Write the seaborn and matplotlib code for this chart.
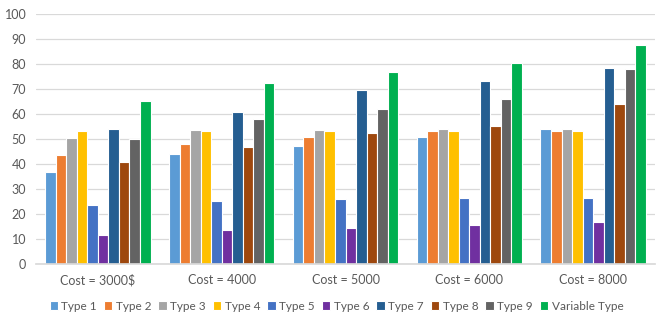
import matplotlib
matplotlib.use("Agg")
import matplotlib.pyplot as plt
import seaborn as sns
import pandas as pd

categories = ["Cost = 3000$", "Cost = 4000", "Cost = 5000", "Cost = 6000", "Cost = 8000"]
series_names = ["Type 1", "Type 2", "Type 3", "Type 4", "Type 5", "Type 6",
                "Type 7", "Type 8", "Type 9", "Variable Type"]
type1 = [37.0, 44.0, 47.3, 50.7, 53.9]
type2 = [43.5, 48.0, 51.0, 53.2, 53.3]
type3 = [50.4, 53.6, 53.7, 53.9, 53.9]
type4 = [53.1, 53.3, 53.2, 53.2, 53.2]
type5 = [23.8, 25.1, 26.1, 26.5, 26.5]
type6 = [11.7, 13.7, 14.6, 15.8, 16.8]
type7 = [53.9, 60.9, 69.8, 73.4, 78.6]
type8 = [41.0, 46.7, 52.3, 55.1, 64.1]
type9 = [50.1, 58.2, 62.2, 66.2, 78.2]
variable = [65.3, 72.5, 76.7, 80.6, 87.6]
colors = ["#5B9BD5", "#ED7D31", "#A5A5A5", "#FFC000", "#4472C4",
          "#7030A0", "#255E91", "#9E480E", "#636363", "#00B050"]

all_series = [type1, type2, type3, type4, type5, type6, type7, type8, type9, variable]
rows = []
for name, vals in zip(series_names, all_series):
    for c, v in zip(categories, vals):
        rows.append({"cost": c, "type": name, "value": v})
df = pd.DataFrame(rows)

sns.set_theme(style="white")
plt.rcParams["font.family"] = ["Lato", "DejaVu Sans"]

fig = plt.figure(figsize=(6.69, 3.23), dpi=100)
ax = fig.add_axes([36/669, 59/323, 619/669, 250/323])
sns.barplot(data=df, x="cost", y="value", hue="type", order=categories,
            hue_order=series_names, palette=colors, width=0.85, saturation=1,
            edgecolor="white", linewidth=0.8, ax=ax, legend=True)

ax.set_ylim(0, 100)
ax.set_yticks(range(0, 101, 10))
ax.set_xlim(-0.5, 4.5)
ax.yaxis.grid(True, color="#D9D9D9", linewidth=0.9)
ax.set_axisbelow(True)
for s in ["top", "right", "left"]:
    ax.spines[s].set_visible(False)
ax.spines["bottom"].set_color("#D9D9D9")
ax.tick_params(axis="both", length=0, labelsize=9, colors="#595959", pad=7)
ax.tick_params(axis="x", pad=7)
ax.set_xlabel("")
ax.set_ylabel("")

handles, labels = ax.get_legend_handles_labels()
leg = ax.legend(handles, labels, loc="center", bbox_to_anchor=(0.5 - 9/619, (264 - 306) / 250),
                ncol=10, frameon=False, fontsize=8.5, handlelength=0.7, handleheight=0.7,
                handletextpad=0.3, columnspacing=0.6, labelcolor="#595959")

fig.savefig("out.png", dpi=100)
